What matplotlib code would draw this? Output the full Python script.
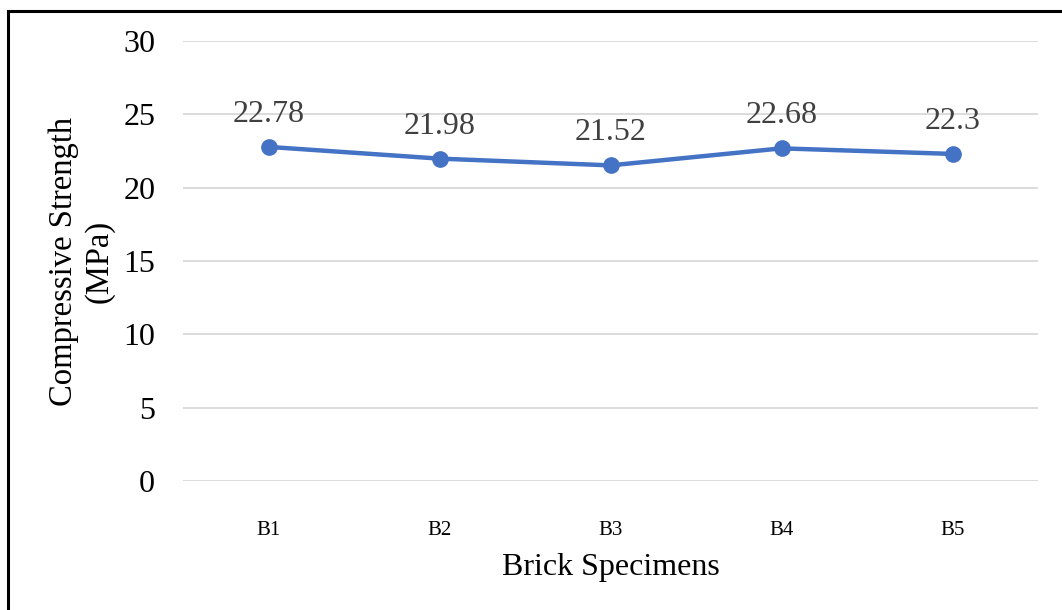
import matplotlib
matplotlib.use("Agg")
import matplotlib.pyplot as plt
from matplotlib.patches import Rectangle

specimens = ["B1", "B2", "B3", "B4", "B5"]
strength = [22.78, 21.98, 21.52, 22.68, 22.3]
strength_labels = ["22.78", "21.98", "21.52", "22.68", "22.3"]
y_ticks = [0, 5, 10, 15, 20, 25, 30]

plt.rcParams["font.family"] = ["Liberation Serif", "DejaVu Serif"]

fig = plt.figure(figsize=(10.62, 6.10), dpi=100)
ax = fig.add_axes([183 / 1062, 1 - 481 / 610, (1038 - 183) / 1062, (481 - 41) / 610])

x = list(range(len(specimens)))
line_color = "#4472C4"
ax.plot(x, strength, color=line_color, lw=3.2, marker="o", markersize=11,
        solid_capstyle="round", zorder=3)

for xi, v, lab in zip(x, strength, strength_labels):
    ax.annotate(lab, (xi, v), xytext=(0, 18), textcoords="offset points",
                ha="center", va="baseline", fontsize=23, color="#404040")

ax.set_xlim(-0.5, len(specimens) - 0.5)
ax.set_ylim(0, 30)
ax.set_yticks(y_ticks)
ax.set_xticks(x)
ax.set_xticklabels(specimens)
ax.grid(axis="y", color="#D9D9D9", lw=1.3)
ax.set_axisbelow(True)
for s in ax.spines.values():
    s.set_visible(False)
ax.tick_params(axis="both", length=0)
ax.tick_params(axis="y", labelsize=23, pad=20)
ax.tick_params(axis="x", labelsize=15, pad=29)

ax.set_xlabel("Brick Specimens", fontsize=23, labelpad=9)
ax.set_ylabel("Compressive Strength\n(MPa)", fontsize=23.5, labelpad=6, linespacing=1.2)

# outer frame around the chart area
fig.patches.append(Rectangle((8 / 1062, -0.05), 1.2, 1 - 11 / 610 + 0.05,
                             transform=fig.transFigure, fill=False,
                             edgecolor="black", lw=2.2))

fig.savefig("out.png", dpi=100)
